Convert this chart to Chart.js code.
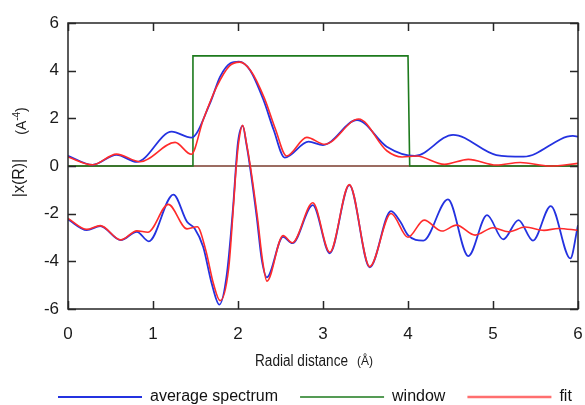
<!DOCTYPE html>
<html><head><meta charset="utf-8">
<script src="https://cdn.jsdelivr.net/npm/chart.js@4/dist/chart.umd.min.js"></script>
<style>html,body{margin:0;padding:0;background:#fff}</style>
</head><body>
<canvas id="c" width="585" height="405"></canvas>
<script>
// ---- data ----
const magAvgX = [0,0.29,0.57,0.81,1.22,1.45,1.67,1.79,1.91,2.01,2.14,2.30,2.42,2.55,2.83,3.0,3.40,3.75,4.08,4.53,5.04,5.36,5.94,6.0];
const magAvgY = [0.43,0.05,0.47,0.17,1.44,1.19,2.63,3.75,4.31,4.38,4.03,2.77,1.51,0.35,1.02,0.88,1.93,0.81,0.42,1.31,0.46,0.39,1.26,1.23];

const magFitX = [0,0.29,0.57,0.85,1.26,1.45,1.59,1.75,1.9,2.02,2.15,2.31,2.44,2.57,2.81,3.02,3.42,3.75,3.93,4.1,4.43,4.71,5.04,5.32,5.67,6.0];
const magFitY = [0.38,0.05,0.5,0.18,0.99,0.49,1.93,3.33,4.2,4.36,4.0,2.85,1.55,0.42,1.2,0.91,1.97,0.64,0.38,0.42,0.07,0.28,0.04,0.15,0.0,0.11];

const imAvgX = [0,0.22,0.38,0.62,0.81,0.95,1.24,1.40,1.49,1.59,1.69,1.78,1.87,1.945,1.976,2.0,2.055,2.1,2.14,2.22,2.28,2.34,2.53,2.64,2.88,3.08,3.31,3.55,3.80,3.91,4.0,4.18,4.47,4.71,4.93,5.12,5.30,5.47,5.68,5.91,6.0];
const imAvgY = [-2.24,-2.69,-2.52,-3.11,-2.76,-3.16,-1.2,-2.34,-2.62,-3.39,-4.92,-5.82,-4.5,-1.6,0,1.0,1.68,0.9,0,-2.13,-3.94,-4.67,-2.97,-3.24,-1.64,-3.66,-0.80,-4.25,-1.89,-2.34,-2.9,-3.13,-1.40,-3.78,-2.06,-3.08,-2.27,-3.13,-1.68,-3.88,-2.48];

const imFitX = [0,0.22,0.38,0.62,0.81,0.94,1.18,1.40,1.52,1.62,1.71,1.79,1.89,1.95,1.98,2.01,2.055,2.1,2.145,2.23,2.29,2.34,2.53,2.64,2.88,3.08,3.31,3.55,3.80,4.0,4.19,4.40,4.57,4.79,5.0,5.18,5.38,5.6,5.77,6.0];
const imFitY = [-2.2,-2.66,-2.5,-3.1,-2.72,-2.78,-1.61,-2.64,-2.55,-3.52,-4.92,-5.65,-4.3,-1.5,0,1.05,1.71,0.95,0,-2.2,-4.0,-4.83,-2.92,-3.22,-1.54,-3.62,-0.78,-4.22,-1.99,-2.99,-2.27,-2.73,-2.48,-2.90,-2.59,-2.76,-2.56,-2.70,-2.62,-2.70];

const windowX = [0,1.47,1.47,4.0,4.02,6];
const windowY = [0,0,4.62,4.62,0,0];

const zeroX = [0,6];
const zeroY = [0,0];

const legendLabels = ['average spectrum','window','fit'];
const xTicks = [0,1,2,3,4,5,6];
const yTicks = [-6,-4,-2,0,2,4,6];

const pts = (xs, ys) => xs.map((x, i) => ({x, y: ys[i]}));

const BLUE = '#2432e0', RED = '#ff2b2b', GREEN = '#1d7a1d', BROWN = '#7a3b2c';
const FONT = 'Liberation Sans, Arial, Helvetica, sans-serif';
const LEG_PAD = 22;

const decor = {
  id: 'decor',
  afterLayout(chart) {
    // shift legend row so it starts where the reference legend starts
    const lg = chart.legend;
    if (!lg || !lg.lineWidths) return;
    const start = (lg.left + LEG_PAD + lg.right - lg.lineWidths[0]) / 2;
    const d = 58 - start;
    lg.left += d; lg.right += d;
  },
  afterDatasetsDraw(chart) {
    const {ctx, chartArea: a, scales: {x, y}} = chart;
    ctx.save();
    ctx.strokeStyle = '#262626';
    ctx.lineWidth = 1.5;
    ctx.strokeRect(a.left, a.top, a.right - a.left, a.bottom - a.top);
    const L = 8;
    ctx.beginPath();
    x.ticks.forEach(t => {
      const p = Math.round(x.getPixelForValue(t.value)) + 0.5;
      ctx.moveTo(p, a.bottom); ctx.lineTo(p, a.bottom - L);
      ctx.moveTo(p, a.top); ctx.lineTo(p, a.top + L);
    });
    y.ticks.forEach(t => {
      const p = Math.round(y.getPixelForValue(t.value)) + 0.5;
      ctx.moveTo(a.left, p); ctx.lineTo(a.left + L, p);
      ctx.moveTo(a.right, p); ctx.lineTo(a.right - L, p);
    });
    ctx.stroke();
    ctx.restore();
  },
  afterDraw(chart) {
    const ctx = chart.ctx;
    ctx.save();
    ctx.fillStyle = '#1a1a1a';
    // x axis title
    ctx.textBaseline = 'alphabetic';
    ctx.textAlign = 'left';
    ctx.save();
    ctx.translate(255, 366);
    ctx.scale(0.85, 1);
    ctx.font = '16px ' + FONT;
    ctx.fillText('Radial distance', 0, 0);
    ctx.restore();
    ctx.font = '12px ' + FONT;
    ctx.fillText('(Å)', 357, 365);
    // y axis title
    ctx.save();
    ctx.translate(20, 178);
    ctx.rotate(-Math.PI / 2);
    ctx.font = '16px ' + FONT;
    ctx.textAlign = 'center';
    ctx.textBaseline = 'middle';
    ctx.fillText('|x(R)|', 0, 0);
    ctx.restore();
    ctx.save();
    ctx.translate(21, 121);
    ctx.rotate(-Math.PI / 2);
    ctx.textBaseline = 'middle';
    ctx.textAlign = 'left';
    ctx.font = '14px ' + FONT;
    const w1 = ctx.measureText('(A').width, w3 = ctx.measureText(')').width;
    ctx.font = '10px ' + FONT;
    const w2 = ctx.measureText('-4').width;
    let s = -(w1 + w2 + w3) / 2;
    ctx.font = '14px ' + FONT;
    ctx.fillText('(A', s, 1);
    ctx.font = '10px ' + FONT;
    ctx.fillText('-4', s + w1, -4);
    ctx.font = '14px ' + FONT;
    ctx.fillText(')', s + w1 + w2, 1);
    ctx.restore();
    ctx.restore();
  }
};

const line = (label, xs, ys, color, width, order, smooth) => ({
  label, data: pts(xs, ys), borderColor: color, backgroundColor: color,
  borderWidth: width, showLine: true, pointRadius: 0, pointHoverRadius: 0,
  fill: false, order, tension: smooth ? 0.4 : 0,
  cubicInterpolationMode: smooth ? 'monotone' : 'default'
});

new Chart(document.getElementById('c'), {
  type: 'scatter',
  data: {
    datasets: [
      line(legendLabels[0], magAvgX, magAvgY, BLUE, 1.8, 3, true),
      line(legendLabels[1], windowX, windowY, GREEN, 1.6, 4, false),
      line(legendLabels[2], magFitX, magFitY, RED, 1.6, 1, true),
      line('avg-im', imAvgX, imAvgY, BLUE, 1.8, 3, true),
      line('fit-im', imFitX, imFitY, RED, 1.6, 1, true),
      line('zero', zeroX, zeroY, BROWN, 1.5, 5, false)
    ]
  },
  options: {
    responsive: false,
    animation: false,
    events: [],
    layout: {padding: {left: 14, right: 7, top: 23, bottom: -10}},
    scales: {
      x: {
        type: 'linear', min: 0, max: 6,
        afterBuildTicks: s => { s.ticks = xTicks.map(v => ({value: v})); },
        afterFit: s => { s.height = 58; s.paddingLeft = 0; s.paddingRight = 0; },
        grid: {display: false, drawTicks: false},
        border: {display: false},
        ticks: {padding: 15, color: '#1a1a1a', font: {family: FONT, size: 17}}
      },
      y: {
        type: 'linear', min: -6, max: 6,
        afterBuildTicks: s => { s.ticks = yTicks.map(v => ({value: v})); },
        afterFit: s => { s.width = 54; s.paddingTop = 0; s.paddingBottom = 0; },
        grid: {display: false, drawTicks: false},
        border: {display: false},
        ticks: {padding: 9, color: '#1a1a1a', font: {family: FONT, size: 17}}
      }
    },
    plugins: {
      tooltip: {enabled: false},
      legend: {
        position: 'bottom',
        labels: {
          filter: item => legendLabels.includes(item.text),
          sort: (a, b) => a.datasetIndex - b.datasetIndex,
          generateLabels: chart => {
            const items = Chart.defaults.plugins.legend.labels.generateLabels(chart);
            items.forEach(it => { if (it.text === 'fit') { it.strokeStyle = '#ff6f6f'; it.lineWidth = 2.6; } });
            return items;
          },
          usePointStyle: true,
          pointStyle: 'line',
          pointStyleWidth: 84,
          padding: LEG_PAD,
          color: '#111',
          font: {family: FONT, size: 16}
        }
      }
    }
  },
  plugins: [decor]
});
</script>
</body></html>
